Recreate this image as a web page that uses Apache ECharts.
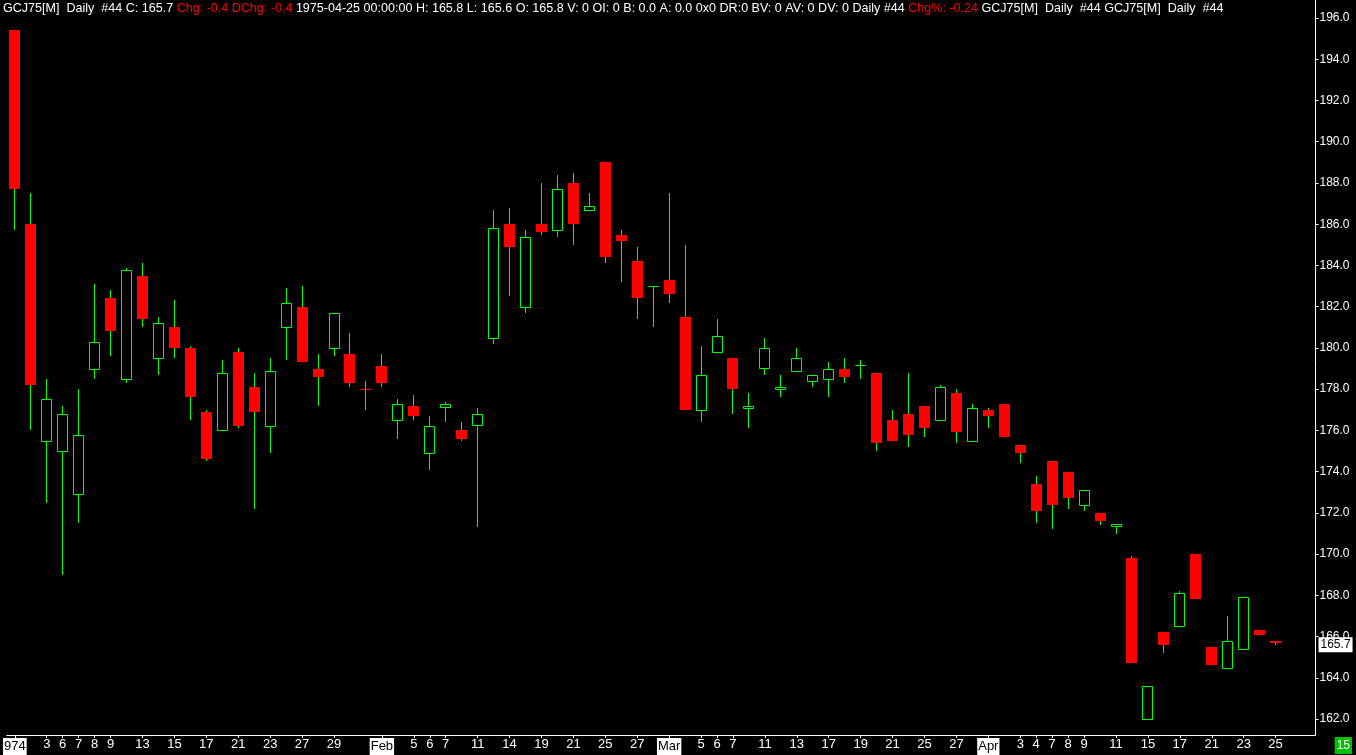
<!DOCTYPE html>
<html><head><meta charset="utf-8">
<script src="https://cdn.jsdelivr.net/npm/echarts@6/dist/echarts.min.js"></script>
<style>html,body{margin:0;padding:0;background:#000;overflow:hidden}#c{width:1356px;height:755px;}</style>
</head><body><div id="c"></div>
<script>
const dates = ['1974-12-31','1975-01-02','01-03','01-06','01-07','01-08','01-09','01-10','01-13','01-14','01-15','01-16','01-17','01-20','01-21','01-22','01-23','01-24','01-27','01-28','01-29','01-30','01-31',
'02-03','02-04','02-05','02-06','02-07','02-10','02-11','02-13','02-14','02-18','02-19','02-20','02-21','02-24','02-25','02-26','02-27','02-28',
'03-03','03-04','03-05','03-06','03-07','03-10','03-11','03-12','03-13','03-14','03-17','03-18','03-19','03-20','03-21','03-24','03-25','03-26','03-27','03-28',
'04-01','04-02','04-03','04-04','04-07','04-08','04-09','04-10','04-11','04-14','04-15','04-16','04-17','04-18','04-21','04-22','04-23','04-24','04-25'];
const xLabels = ['974','','3','6','7','8','9','','13','','15','','17','','21','','23','','27','','29','','',
'Feb','','5','6','7','','11','','14','','19','','21','','25','','27','',
'Mar','','5','6','7','','11','','13','','17','','19','','21','','25','','27','',
'Apr','','3','4','7','8','9','','11','','15','','17','','21','','23','','25'];
const opens  = [195.4,186.0,175.5,175.0,172.9,179.0,182.4,178.5,183.5,179.5,181.0,180.0,176.9,176.0,179.8,178.1,176.2,181.0,182.0,179.0,180.0,179.7,178.0,
179.1,176.5,177.2,174.9,177.15,176.0,176.25,180.5,186.0,182.0,186.0,185.7,188.0,186.7,189.0,185.5,184.2,183.0,
183.3,181.5,177.0,179.8,179.5,177.1,179.05,178.0,178.9,178.4,178.5,179.0,179.15,178.8,176.5,176.8,177.2,176.5,177.8,175.5,
177.0,177.3,175.3,173.4,174.5,174.0,172.4,172.0,171.35,169.8,162.0,166.2,166.5,170.0,165.5,164.5,165.4,166.3,165.8];
const closes = [187.7,178.2,177.5,176.8,175.8,180.3,180.8,183.8,181.4,181.2,180.0,177.6,174.6,178.8,176.2,176.9,178.9,182.2,179.3,178.6,181.7,178.3,177.97,
178.3,177.3,176.7,176.2,177.3,175.6,176.8,185.8,184.9,185.4,185.6,187.7,186.0,186.9,184.4,185.2,182.4,183.0,
182.6,177.0,178.7,180.6,178.0,177.2,180.0,178.1,179.5,178.7,179.0,178.6,179.15,175.4,175.5,175.8,176.1,178.1,175.9,177.1,
176.7,175.7,174.9,172.1,172.4,172.7,173.1,171.6,171.45,164.7,163.6,165.6,168.1,167.8,164.6,165.8,167.9,166.1,165.7];
const highs  = [195.4,187.5,178.5,177.2,178.0,183.1,182.8,183.9,184.1,181.5,182.3,180.1,177.0,179.4,180.0,178.8,179.5,182.9,183.0,179.7,181.7,180.7,178.4,
179.7,177.5,177.7,176.7,177.4,176.4,177.1,186.7,186.8,185.7,188.0,188.4,188.5,187.5,189.0,185.7,184.9,183.0,
187.5,185.0,180.1,181.4,179.5,177.8,180.5,178.7,180.0,178.7,179.3,179.5,179.4,178.8,177.0,178.8,177.2,178.2,178.0,177.3,
177.1,177.3,175.3,173.8,174.5,174.0,173.1,172.0,171.45,169.9,163.6,166.2,168.2,170.0,165.5,167.0,167.9,166.3,165.8];
const lows   = [185.7,176.0,172.5,169.0,171.5,178.5,179.6,178.3,181.0,178.7,179.5,176.5,174.5,176.0,176.1,172.2,174.9,179.4,179.3,177.2,179.6,178.1,177.0,
178.1,175.6,176.5,174.1,176.4,175.5,171.3,180.2,182.5,181.7,185.5,185.4,185.0,186.7,184.1,183.2,181.4,181.0,
182.2,177.0,176.4,179.8,176.8,176.1,178.7,177.6,178.9,178.1,177.6,178.3,178.5,175.0,175.5,175.2,175.7,176.5,175.4,175.5,
176.1,175.7,174.4,171.5,171.2,172.2,172.1,171.4,171.0,164.7,162.0,165.2,166.5,167.8,164.6,164.5,165.4,166.1,165.6];
const yTicks = [162,164,166,168,170,172,174,176,178,180,182,184,186,188,190,192,194,196];
const lastPrice = 165.7;

const GREEN = '#00ff00', RED = '#ff0000';
const ohlc = dates.map((d, i) => [i, opens[i], closes[i], lows[i], highs[i]]);
const cats = dates.concat(['', ' ']);
const HFONT = '12.55px Liberation Sans';
const headerText = '{w|GCJ75[M]  Daily  #44 C: 165.7 }{r|Chg: -0.4 DChg: -0.4}{w| 1975-04-25 00:00:00 H: 165.8 L: 165.6 O: 165.8 V: 0 OI: 0 B: 0.0 A: 0.0 0x0 DR:0 BV: 0 AV: 0 DV: 0 Daily #44 }{r|Chg%: -0.24}{w| GCJ75[M]  Daily  #44 GCJ75[M]  Daily  #44}';

const chart = echarts.init(document.getElementById('c'), null, {renderer: 'canvas'});
chart.setOption({
  backgroundColor: '#000',
  animation: false,
  grid: {left: 3.5, right: 40.5, top: 0, bottom: 20},
  xAxis: {
    type: 'category', data: cats, boundaryGap: true,
    axisLine: {show: true, lineStyle: {color: '#fff', width: 1}},
    axisTick: {show: true, alignWithLabel: true, length: 3, lineStyle: {color: '#fff'},
      interval: (idx) => !!xLabels[idx]},
    axisLabel: {
      interval: 0, margin: 3, color: '#fff', fontSize: 13, fontFamily: 'Liberation Sans Narrow, Liberation Sans, sans-serif',
      formatter: (v, idx) => {
        const t = xLabels[idx] || '';
        if (!t) return '';
        return (isNaN(+t) || t === '974') ? '{m|' + t + '}' : t;
      },
      rich: {m: {backgroundColor: '#fff', color: '#000', padding: [2, 1, 2, 1], fontSize: 13, fontFamily: 'Liberation Sans Narrow, Liberation Sans, sans-serif'}}
    },
    splitLine: {show: false}
  },
  yAxis: {
    type: 'value', position: 'right', min: 161.228, max: 196.873, scale: true,
    axisLine: {show: true, lineStyle: {color: '#fff', width: 1}},
    axisTick: {show: true, length: 3, lineStyle: {color: '#fff'}, customValues: yTicks},
    axisLabel: {color: '#fff', fontSize: 12, margin: 4, fontFamily: 'Liberation Sans, sans-serif',
      customValues: yTicks, formatter: v => v.toFixed(1)},
    splitLine: {show: false}
  },
  series: [{
    type: 'custom', data: ohlc, encode: {x: 0, y: [1, 2, 3, 4]}, clip: true,
    renderItem: (params, api) => {
      const i = api.value(0), o = api.value(1), c = api.value(2), l = api.value(3), h = api.value(4);
      const pO = api.coord([i, o]), pC = api.coord([i, c]), pL = api.coord([i, l]), pH = api.coord([i, h]);
      const cx = Math.floor(pO[0]) + 0.5;
      const up = c >= o;
      const yT = Math.round(Math.min(pO[1], pC[1])), yB = Math.round(Math.max(pO[1], pC[1]));
      const children = [{type: 'line', shape: {x1: cx, y1: Math.round(pH[1]), x2: cx, y2: Math.round(pL[1])},
        style: {stroke: GREEN, lineWidth: 1}}];
      if (up) {
        children.push({type: 'rect', shape: {x: cx - 5, y: yT + 0.5, width: 10, height: yB - yT},
          style: {fill: '#000', stroke: GREEN, lineWidth: 1}});
      } else {
        children.push({type: 'rect', shape: {x: cx - 5.5, y: yT, width: 11, height: Math.max(1, yB - yT)},
          style: {fill: RED}});
      }
      return {type: 'group', children};
    }
  }]
});

// last price tag on the right axis, positioned through the axis scale
const py = chart.convertToPixel({yAxisIndex: 0}, lastPrice);
const gridRight = chart.convertToPixel({xAxisIndex: 0}, cats.length - 1) + 8;
chart.setOption({graphic: [
  {type: 'text', left: 3, top: 2, z: 10, style: {
      text: headerText,
      rich: {w: {fill: '#fff', font: HFONT}, r: {fill: '#ff0000', font: HFONT}}
  }},
  {type: 'text', right: 4, bottom: 1, z: 10, style: {
      text: '15', fill: '#fff', backgroundColor: '#00c000', padding: [3, 2, 2, 2], font: '12px Liberation Sans'
  }},
  {type: 'text', x: gridRight + 3, y: py + 2, z: 20, style: {
      text: lastPrice.toFixed(1), fill: '#000', backgroundColor: '#fff', padding: [2, 2, 1, 2],
      font: '12px Liberation Sans', verticalAlign: 'middle', align: 'left'
  }}
]});
</script></body></html>
